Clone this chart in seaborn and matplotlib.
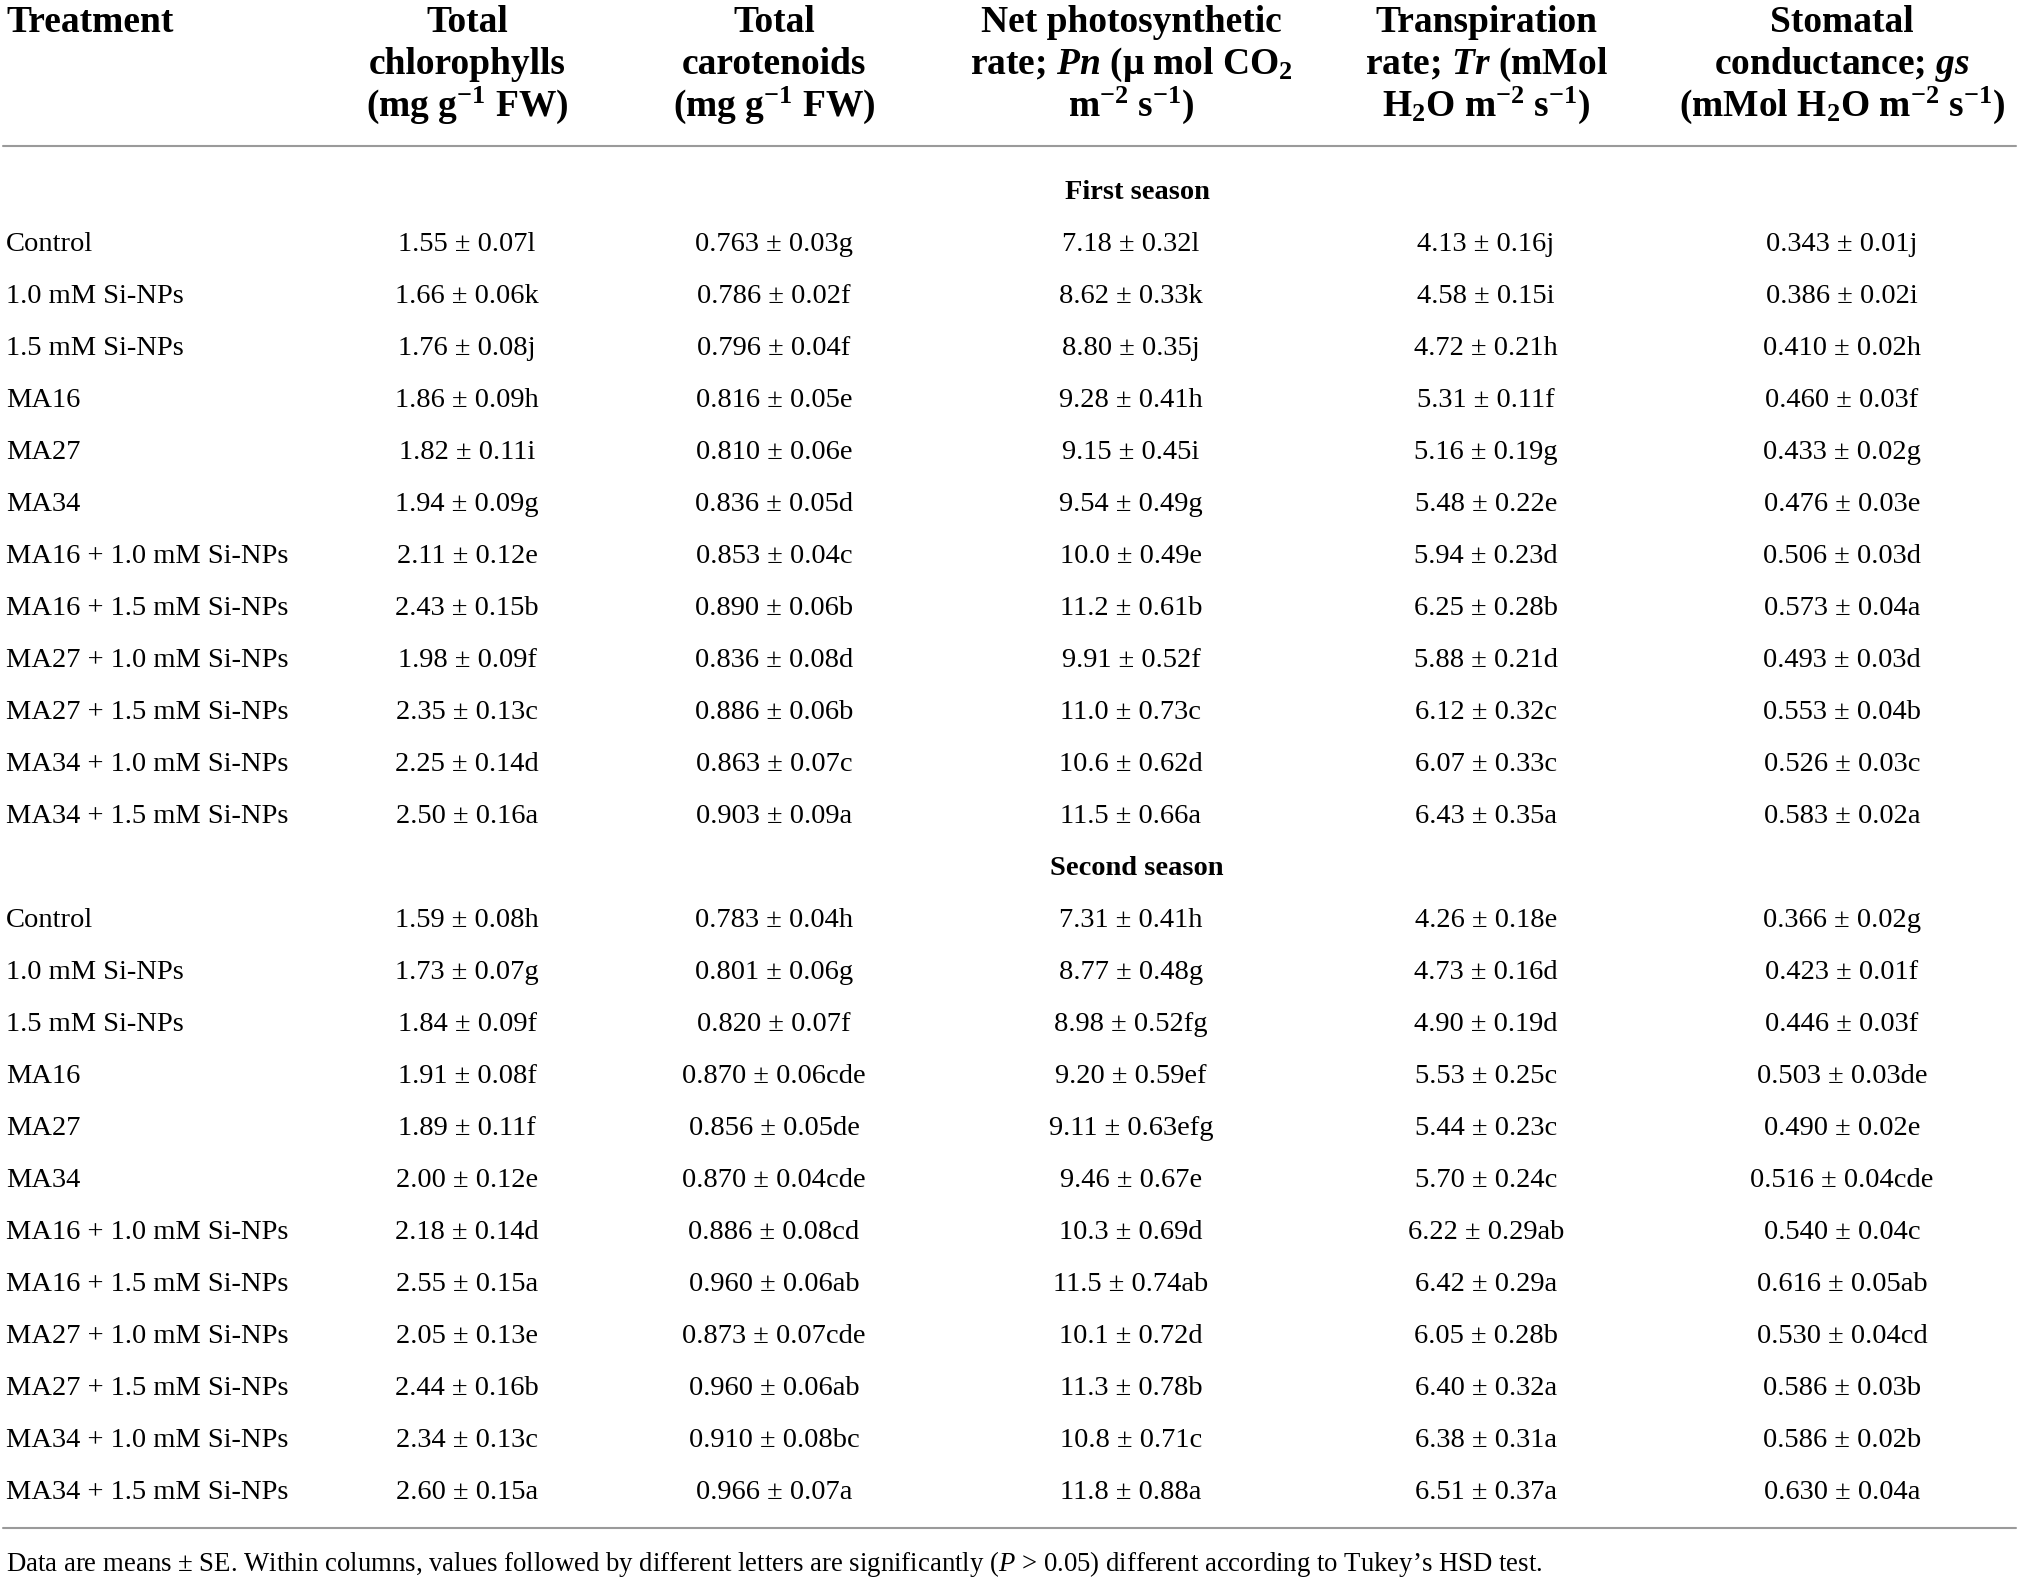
import matplotlib
matplotlib.use("Agg")
import matplotlib.pyplot as plt
import seaborn as sns
import pandas as pd

# table content
treatments = ["Control", "1.0 mM Si-NPs", "1.5 mM Si-NPs", "MA16", "MA27", "MA34",
              "MA16 + 1.0 mM Si-NPs", "MA16 + 1.5 mM Si-NPs",
              "MA27 + 1.0 mM Si-NPs", "MA27 + 1.5 mM Si-NPs",
              "MA34 + 1.0 mM Si-NPs", "MA34 + 1.5 mM Si-NPs"]
seasons = ["First season", "Second season"]

headers = [
    [r"Total", r"chlorophylls", r"(mg g$^{\mathbf{-1}}$ FW)"],
    [r"Total", r"carotenoids", r"(mg g$^{\mathbf{-1}}$ FW)"],
    [r"Net photosynthetic", r"rate; $\mathbfit{Pn}$ (μ mol CO$_{\mathbf{2}}$",
     r"m$^{\mathbf{-2}}$ s$^{\mathbf{-1}}$)"],
    [r"Transpiration", r"rate; $\mathbfit{Tr}$ (mMol",
     r"H$_{\mathbf{2}}$O m$^{\mathbf{-2}}$ s$^{\mathbf{-1}}$)"],
    [r"Stomatal", r"conductance; $\mathbfit{gs}$",
     r"(mMol H$_{\mathbf{2}}$O m$^{\mathbf{-2}}$ s$^{\mathbf{-1}}$)"],
]

chl_first = ["1.55 ± 0.07l", "1.66 ± 0.06k", "1.76 ± 0.08j", "1.86 ± 0.09h", "1.82 ± 0.11i", "1.94 ± 0.09g",
             "2.11 ± 0.12e", "2.43 ± 0.15b", "1.98 ± 0.09f", "2.35 ± 0.13c", "2.25 ± 0.14d", "2.50 ± 0.16a"]
car_first = ["0.763 ± 0.03g", "0.786 ± 0.02f", "0.796 ± 0.04f", "0.816 ± 0.05e", "0.810 ± 0.06e", "0.836 ± 0.05d",
             "0.853 ± 0.04c", "0.890 ± 0.06b", "0.836 ± 0.08d", "0.886 ± 0.06b", "0.863 ± 0.07c", "0.903 ± 0.09a"]
pn_first = ["7.18 ± 0.32l", "8.62 ± 0.33k", "8.80 ± 0.35j", "9.28 ± 0.41h", "9.15 ± 0.45i", "9.54 ± 0.49g",
            "10.0 ± 0.49e", "11.2 ± 0.61b", "9.91 ± 0.52f", "11.0 ± 0.73c", "10.6 ± 0.62d", "11.5 ± 0.66a"]
tr_first = ["4.13 ± 0.16j", "4.58 ± 0.15i", "4.72 ± 0.21h", "5.31 ± 0.11f", "5.16 ± 0.19g", "5.48 ± 0.22e",
            "5.94 ± 0.23d", "6.25 ± 0.28b", "5.88 ± 0.21d", "6.12 ± 0.32c", "6.07 ± 0.33c", "6.43 ± 0.35a"]
gs_first = ["0.343 ± 0.01j", "0.386 ± 0.02i", "0.410 ± 0.02h", "0.460 ± 0.03f", "0.433 ± 0.02g", "0.476 ± 0.03e",
            "0.506 ± 0.03d", "0.573 ± 0.04a", "0.493 ± 0.03d", "0.553 ± 0.04b", "0.526 ± 0.03c", "0.583 ± 0.02a"]

chl_second = ["1.59 ± 0.08h", "1.73 ± 0.07g", "1.84 ± 0.09f", "1.91 ± 0.08f", "1.89 ± 0.11f", "2.00 ± 0.12e",
              "2.18 ± 0.14d", "2.55 ± 0.15a", "2.05 ± 0.13e", "2.44 ± 0.16b", "2.34 ± 0.13c", "2.60 ± 0.15a"]
car_second = ["0.783 ± 0.04h", "0.801 ± 0.06g", "0.820 ± 0.07f", "0.870 ± 0.06cde", "0.856 ± 0.05de",
              "0.870 ± 0.04cde", "0.886 ± 0.08cd", "0.960 ± 0.06ab", "0.873 ± 0.07cde", "0.960 ± 0.06ab",
              "0.910 ± 0.08bc", "0.966 ± 0.07a"]
pn_second = ["7.31 ± 0.41h", "8.77 ± 0.48g", "8.98 ± 0.52fg", "9.20 ± 0.59ef", "9.11 ± 0.63efg", "9.46 ± 0.67e",
             "10.3 ± 0.69d", "11.5 ± 0.74ab", "10.1 ± 0.72d", "11.3 ± 0.78b", "10.8 ± 0.71c", "11.8 ± 0.88a"]
tr_second = ["4.26 ± 0.18e", "4.73 ± 0.16d", "4.90 ± 0.19d", "5.53 ± 0.25c", "5.44 ± 0.23c", "5.70 ± 0.24c",
             "6.22 ± 0.29ab", "6.42 ± 0.29a", "6.05 ± 0.28b", "6.40 ± 0.32a", "6.38 ± 0.31a", "6.51 ± 0.37a"]
gs_second = ["0.366 ± 0.02g", "0.423 ± 0.01f", "0.446 ± 0.03f", "0.503 ± 0.03de", "0.490 ± 0.02e",
             "0.516 ± 0.04cde", "0.540 ± 0.04c", "0.616 ± 0.05ab", "0.530 ± 0.04cd", "0.586 ± 0.03b",
             "0.586 ± 0.02b", "0.630 ± 0.04a"]

footnote = (r"Data are means ± SE. Within columns, values followed by different letters are "
            r"significantly ($\mathit{P}$ > 0.05) different according to Tukey’s HSD test.")

first = pd.DataFrame({"Treatment": treatments, "chl": chl_first, "car": car_first,
                      "pn": pn_first, "tr": tr_first, "gs": gs_first})
second = pd.DataFrame({"Treatment": treatments, "chl": chl_second, "car": car_second,
                       "pn": pn_second, "tr": tr_second, "gs": gs_second})

sns.set_theme(style="white")
plt.rcParams["font.family"] = ["Liberation Serif", "DejaVu Serif"]
plt.rcParams["mathtext.fontset"] = "custom"
plt.rcParams["mathtext.rm"] = "Liberation Serif"
plt.rcParams["mathtext.it"] = "Liberation Serif:italic"
plt.rcParams["mathtext.bf"] = "Liberation Serif:bold"
plt.rcParams["mathtext.bfit"] = "Liberation Serif:italic:bold"

W, H = 2019, 1581
fig = plt.figure(figsize=(W / 100, H / 100), dpi=100)
ax = fig.add_axes([0, 0, 1, 1])
ax.set_xlim(0, W)
ax.set_ylim(H, 0)
ax.axis("off")

col_x = [467, 774, 1131, 1486, 1842]
season_x = 1137
left_x = 6
head_y = [21, 63, 105]
row0, step = 191, 52
body_fs, head_fs = 20.5, 27
base_off = 8
rule_col = "#9a9a9a"

# header
ax.text(left_x, head_y[0] + 11, "Treatment", fontsize=head_fs, fontweight="bold",
        ha="left", va="baseline", color="black")
for x, lines in zip(col_x, headers):
    for y, s in zip(head_y, lines):
        ax.text(x, y + 11, s, fontsize=head_fs, fontweight="bold",
                ha="center", va="baseline", color="black")

ax.plot([3, W - 3], [146, 146], color=rule_col, lw=1.5)

# body
idx = 0
cols = ["chl", "car", "pn", "tr", "gs"]
for name, df in zip(seasons, [first, second]):
    y = row0 + idx * step
    ax.text(season_x, y + base_off, name, fontsize=body_fs,
            fontweight="bold", ha="center", va="baseline", color="black")
    idx += 1
    for _, r in df.iterrows():
        y = row0 + idx * step
        ax.text(left_x, y + base_off, r["Treatment"], fontsize=body_fs,
                ha="left", va="baseline", color="black")
        for x, c in zip(col_x, cols):
            ax.text(x, y + base_off, r[c], fontsize=body_fs,
                    ha="center", va="baseline", color="black")
        idx += 1

ax.plot([3, W - 3], [1528, 1528], color=rule_col, lw=1.5)
ax.text(left_x, 1563 + base_off, footnote, fontsize=19.3, ha="left", va="baseline", color="black")

fig.savefig("out.png", dpi=100, facecolor="white")
